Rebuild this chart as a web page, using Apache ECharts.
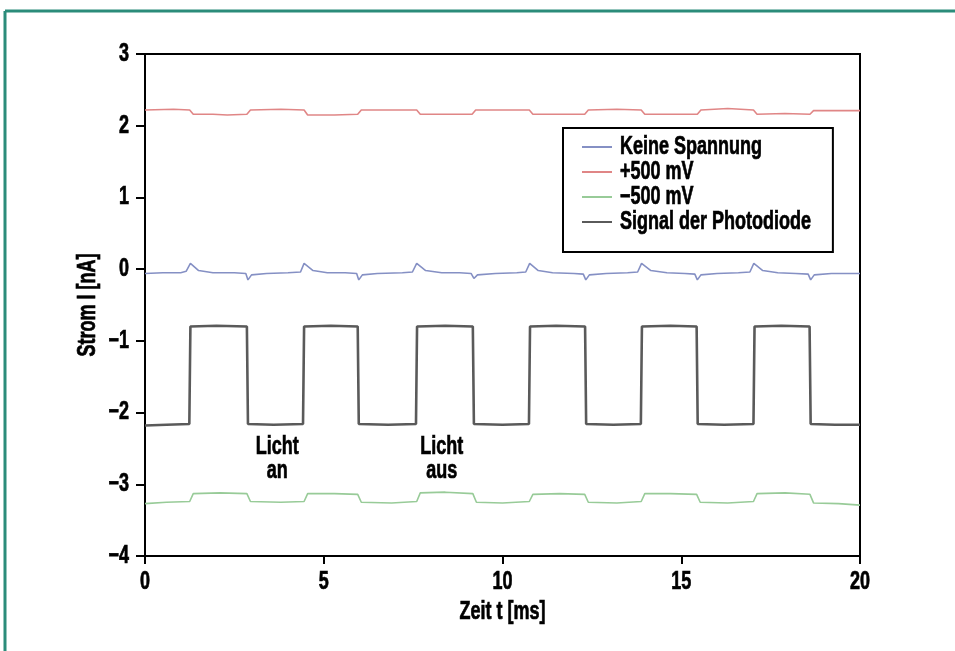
<!DOCTYPE html>
<html>
<head>
<meta charset="utf-8">
<script src="https://cdn.jsdelivr.net/npm/echarts@6/dist/echarts.min.js"></script>
<style>
html,body{margin:0;padding:0;background:#fff;}
#c{width:955px;height:651px;}
</style>
</head>
<body>
<div id="c"></div>
<script>
// ---- data ----
var xTicks = [0, 5, 10, 15, 20];
var yTicks = [-4, -3, -2, -1, 0, 1, 2, 3];
var seriesNames = ['Keine Spannung', '+500 mV', '\u2212500 mV', 'Signal der Photodiode'];
var xName = 'Zeit t [ms]';
var yName = 'Strom I [nA]';

var noVoltage = [
  [0,-0.06],[0.5,-0.05],[1.0,-0.05],[1.15,-0.03],[1.27,0.08],[1.5,-0.02],[1.9,-0.05],[2.5,-0.05],
  [2.82,-0.06],[2.88,-0.15],[2.98,-0.08],[3.4,-0.06],[4.0,-0.05],[4.35,-0.04],[4.45,0.08],[4.7,-0.02],
  [5.1,-0.05],[5.6,-0.05],[5.92,-0.06],[5.98,-0.15],[6.08,-0.08],[6.5,-0.06],[7.2,-0.05],[7.48,-0.04],
  [7.6,0.08],[7.85,-0.02],[8.3,-0.05],[8.8,-0.05],[9.12,-0.06],[9.2,-0.13],[9.3,-0.08],[9.8,-0.06],
  [10.4,-0.05],[10.65,-0.04],[10.76,0.08],[11.0,-0.02],[11.4,-0.05],[12.0,-0.06],[12.26,-0.07],[12.33,-0.15],
  [12.43,-0.08],[12.9,-0.06],[13.5,-0.05],[13.78,-0.04],[13.89,0.08],[14.15,-0.02],[14.6,-0.05],[15.1,-0.06],
  [15.38,-0.07],[15.45,-0.15],[15.55,-0.08],[16.0,-0.06],[16.6,-0.05],[16.92,-0.04],[17.03,0.08],[17.28,-0.02],
  [17.7,-0.05],[18.2,-0.06],[18.55,-0.07],[18.62,-0.15],[18.72,-0.08],[19.2,-0.06],[20,-0.06]
];

var plus500 = [
  [0,2.22],[0.8,2.23],[1.25,2.22],[1.35,2.16],[1.9,2.16],[2.3,2.15],[2.85,2.16],[2.95,2.22],
  [3.8,2.23],[4.45,2.22],[4.55,2.15],[5.3,2.15],[5.95,2.16],[6.05,2.22],[7.0,2.22],[7.6,2.22],
  [7.7,2.16],[8.4,2.16],[9.15,2.16],[9.25,2.22],[10.0,2.22],[10.75,2.22],[10.85,2.16],[11.6,2.16],
  [12.3,2.16],[12.4,2.22],[13.2,2.23],[13.88,2.22],[13.98,2.16],[14.7,2.16],[15.45,2.16],[15.55,2.22],
  [16.3,2.24],[17.02,2.22],[17.12,2.16],[17.9,2.17],[18.6,2.16],[18.7,2.21],[19.4,2.21],[20,2.21]
];

var minus500 = [
  [0,-3.27],[0.6,-3.25],[1.25,-3.24],[1.35,-3.13],[2.1,-3.12],[2.85,-3.13],[2.95,-3.24],[3.8,-3.25],
  [4.45,-3.24],[4.55,-3.13],[5.3,-3.13],[5.95,-3.14],[6.05,-3.25],[6.9,-3.26],[7.6,-3.24],[7.7,-3.12],
  [8.4,-3.11],[9.17,-3.13],[9.27,-3.25],[10.0,-3.26],[10.75,-3.24],[10.85,-3.14],[11.6,-3.13],[12.3,-3.14],
  [12.4,-3.25],[13.2,-3.26],[13.88,-3.24],[13.98,-3.13],[14.7,-3.13],[15.43,-3.14],[15.53,-3.25],[16.3,-3.26],
  [17.02,-3.24],[17.12,-3.13],[17.9,-3.12],[18.6,-3.14],[18.7,-3.26],[19.4,-3.27],[20,-3.29]
];

var photodiode = [
  [0,-2.18],[0.6,-2.17],[1.24,-2.16],[1.27,-0.80],[2.0,-0.79],[2.85,-0.80],[2.88,-2.16],[3.6,-2.17],
  [4.42,-2.16],[4.45,-0.80],[5.2,-0.79],[5.95,-0.80],[5.98,-2.16],[6.8,-2.17],[7.58,-2.16],[7.61,-0.80],
  [8.4,-0.79],[9.17,-0.80],[9.20,-2.16],[10.0,-2.17],[10.74,-2.16],[10.77,-0.80],[11.5,-0.79],[12.31,-0.80],
  [12.34,-2.16],[13.1,-2.17],[13.87,-2.16],[13.90,-0.80],[14.7,-0.79],[15.43,-0.80],[15.46,-2.16],[16.2,-2.17],
  [17.02,-2.16],[17.05,-0.80],[17.8,-0.79],[18.59,-0.80],[18.62,-2.16],[19.3,-2.17],[20,-2.17]
];

var annotations = [
  {text: 'Licht\nan', t: 3.7},
  {text: 'Licht\naus', t: 8.3}
];

// ---- chart ----
var FONT = "'Liberation Sans', Arial, sans-serif";
var FSIZE = 25;
var SX = 0.72;   // horizontal squeeze to mimic a condensed bold face
var colors = ['#8590c4', '#e08686', '#98cb98', '#5a5a5a'];
var frameColor = '#2b8c7a';
var chart = echarts.init(document.getElementById('c'), null, {renderer: 'canvas'});

function minus(v){ return String(v).replace('-', '\u2212'); }
function txt(str, x, y, align, vAlign, rot){
  return {type: 'text', x: x, y: y, scaleX: SX, scaleY: 1, rotation: rot || 0, silent: true, z: 50,
    style: {text: str, fill: '#000', stroke: '#000', lineWidth: 0.7, font: 'bold ' + FSIZE + 'px ' + FONT,
      align: align, verticalAlign: vAlign, lineHeight: 24}};
}

var option = {
  animation: false,
  backgroundColor: '#fff',
  grid: {left: 145, right: 95, top: 54, bottom: 95, show: true, borderColor: '#000', borderWidth: 2, backgroundColor: 'transparent'},
  xAxis: {
    type: 'value', min: xTicks[0], max: xTicks[xTicks.length-1], interval: 5,
    axisLine: {show: true, onZero: false, lineStyle: {color: '#000', width: 2}},
    axisTick: {show: true, inside: false, length: 8, lineStyle: {color: '#000', width: 2}},
    axisLabel: {show: false},
    splitLine: {show: false}
  },
  yAxis: {
    type: 'value', min: yTicks[0], max: yTicks[yTicks.length-1], interval: 1,
    axisLine: {show: true, onZero: false, lineStyle: {color: '#000', width: 2}},
    axisTick: {show: true, inside: false, length: 9, lineStyle: {color: '#000', width: 2}},
    axisLabel: {show: false},
    splitLine: {show: false}
  },
  legend: {
    orient: 'vertical', left: 563, top: 128,
    data: seriesNames,
    formatter: function(){ return ' '; },
    icon: 'rect', itemWidth: 30, itemHeight: 2, itemGap: 11,
    padding: [12, 212, 23, 19],
    borderColor: '#000', borderWidth: 2, backgroundColor: '#fff',
    textStyle: {fontSize: 14, lineHeight: 14, color: '#000'},
    selectedMode: false
  },
  series: [
    {name: seriesNames[0], type: 'line', data: noVoltage, showSymbol: false, lineStyle: {color: colors[0], width: 1.6}, itemStyle: {color: colors[0]}},
    {name: seriesNames[1], type: 'line', data: plus500, showSymbol: false, lineStyle: {color: colors[1], width: 1.6}, itemStyle: {color: colors[1]}},
    {name: seriesNames[2], type: 'line', data: minus500, showSymbol: false, lineStyle: {color: colors[2], width: 1.6}, itemStyle: {color: colors[2]}},
    {name: seriesNames[3], type: 'line', data: photodiode, showSymbol: false, lineStyle: {color: colors[3], width: 2.6}, itemStyle: {color: colors[3]}}
  ]
};
chart.setOption(option);

// ---- texts positioned through the chart's own scales ----
var g = [
  {type: 'line', shape: {x1: 5, y1: 11, x2: 955, y2: 11}, style: {stroke: frameColor, lineWidth: 3}, silent: true},
  {type: 'line', shape: {x1: 5, y1: 11, x2: 5, y2: 651}, style: {stroke: frameColor, lineWidth: 3}, silent: true}
];
var yMin = yTicks[0], yMax = yTicks[yTicks.length-1];
var xMin = xTicks[0], xMax = xTicks[xTicks.length-1];
yTicks.forEach(function(v){
  var p = chart.convertToPixel({gridIndex: 0}, [xMin, v]);
  g.push(txt(minus(v), p[0] - 16, p[1], 'right', 'middle'));
});
xTicks.forEach(function(v){
  var p = chart.convertToPixel({gridIndex: 0}, [v, yMin]);
  g.push(txt(minus(v), p[0], p[1] + 26, 'center', 'middle'));
});
var pxMid = chart.convertToPixel({gridIndex: 0}, [(xMin + xMax) / 2, yMin]);
g.push(txt(xName, pxMid[0], pxMid[1] + 56, 'center', 'middle'));
var pyMid = chart.convertToPixel({gridIndex: 0}, [xMin, (yMin + yMax) / 2]);
g.push(txt(yName, pyMid[0] - 57, pyMid[1], 'center', 'middle', Math.PI / 2));
annotations.forEach(function(a){
  var p = chart.convertToPixel({gridIndex: 0}, [a.t, -2.17]);
  g.push(txt(a.text, p[0], p[1] + 10, 'center', 'top'));
});
// legend labels next to the legend's own icons
var legendTop = 128 + 12 + 7;
seriesNames.forEach(function(n, i){
  g.push(txt(n, 620, legendTop + i * 25, 'left', 'middle'));
});
chart.setOption({graphic: g});
</script>
</body>
</html>
